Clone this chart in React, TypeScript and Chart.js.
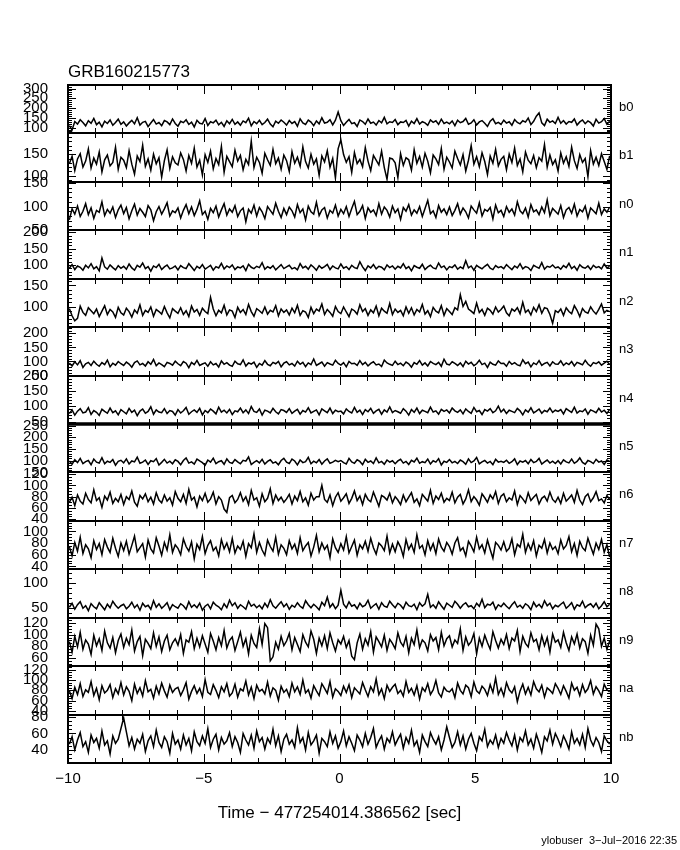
import React, { useEffect, useRef } from "react";
import { Chart, registerables } from "chart.js";

Chart.register(...registerables);

const TITLE = "GRB160215773";
const X_TITLE = "Time \u2212 477254014.386562 [sec]";
const FOOTER = "ylobuser  3\u2212Jul\u22122016 22:35";
const X_MIN = -10;
const X_MAX = 10;
const X_LABEL_TICKS = [-10, -5, 0, 5, 10];
const X_MINOR_STEP = 1;
const X_MAJOR_STEP = 5;

const DETECTORS = ["b0", "b1", "n0", "n1", "n2", "n3", "n4", "n5", "n6", "n7", "n8", "n9", "na", "nb"];
const Y_MINS = [70, 86, 50, 58, 51, 50, 42, 50, 37, 35, 31, 46, 33, 24];
const Y_MAXS = [318, 198, 152, 206, 166, 222, 200, 257, 123, 118, 128, 129, 127, 83];
const Y_LABEL_STEPS = [50, 50, 50, 50, 50, 50, 50, 50, 20, 20, 50, 20, 20, 20];
const Y_MINOR_STEPS = [10, 10, 10, 10, 10, 10, 10, 10, 5, 5, 10, 5, 5, 5];
const THICK_EDGE_PANEL = 6;

const b0Counts = [
  110,88,131,118,140,126,109,135,122,147,115,128,104,133,121,139,112,126,143,117,
  129,108,124,137,119,150,113,127,132,105,123,141,118,126,110,136,129,115,144,121,
  107,132,125,140,116,128,103,137,122,119,146,111,130,124,138,114,127,106,135,120,
  142,117,129,112,134,125,148,109,131,120,137,115,126,143,118,104,133,122,139,127,
  113,136,121,131,107,145,124,116,138,128,110,134,119,150,123,127,140,114,138,180,
  135,111,127,142,120,125,106,139,131,117,144,122,128,113,136,124,152,119,130,126,
  141,115,129,126,137,108,133,121,146,118,130,124,112,139,127,135,116,143,121,128,
  119,134,110,138,125,131,147,117,124,140,113,129,136,122,106,133,145,120,127,116,
  138,123,130,112,141,126,119,135,128,149,115,132,158,175,124,110,143,127,134,121,
  152,122,136,118,131,127,144,113,129,139,120,134,125,108,142,123,130,146,117,132,
];
const b1Counts = [
  128,145,112,139,151,120,134,162,118,141,127,155,109,137,148,123,131,166,115,143,
  136,119,158,127,104,146,133,171,122,139,113,150,128,142,97,135,160,117,144,130,
  125,153,138,111,147,129,164,120,136,102,149,131,157,116,140,126,168,108,145,133,
  121,159,134,147,114,138,126,180,119,143,131,106,152,137,124,161,128,141,115,148,
  135,110,156,129,143,122,167,133,118,150,127,139,101,146,132,158,120,140,95,163,
  183,149,131,144,108,154,128,138,121,165,134,112,147,136,125,157,119,92,141,139,
  130,96,151,124,142,137,113,160,129,145,120,152,134,107,148,139,126,163,115,143,
  132,118,157,140,125,149,111,136,170,127,144,121,153,133,103,146,129,161,123,138,
  145,114,150,131,164,124,139,109,155,136,128,147,119,142,134,172,120,148,126,137,
  111,153,129,144,122,166,135,117,149,131,140,98,158,127,143,124,151,133,115,146,
];
const n0Counts = [
  72,95,84,101,79,90,106,83,97,75,92,88,110,81,94,86,99,77,93,103,
  85,98,74,91,105,82,96,88,79,102,93,70,89,100,84,95,108,80,91,87,
  97,76,92,104,85,99,81,94,112,83,90,73,96,87,101,78,93,106,82,95,
  88,102,79,91,97,68,94,86,103,80,98,89,75,100,92,84,107,90,77,96,
  83,99,91,78,104,87,95,72,101,89,84,109,81,93,98,76,92,86,103,80,
  94,85,100,79,96,111,83,90,102,75,97,88,93,81,106,84,99,92,78,101,
  87,95,73,98,90,104,82,93,86,100,79,96,113,85,91,77,102,88,95,83,
  99,81,92,106,84,97,89,76,101,93,86,108,80,94,90,98,74,103,87,92,
  79,100,88,95,82,110,91,85,97,78,104,89,93,83,99,87,114,81,96,90,
  84,102,77,93,98,86,105,80,94,89,101,76,97,91,85,107,83,95,88,99,
];
const n1Counts = [
  90,101,86,97,93,84,99,91,104,88,95,82,121,94,87,100,92,85,98,90,
  96,87,103,91,84,99,93,106,89,95,81,97,92,102,86,94,100,88,91,97,
  85,98,92,89,104,94,83,96,90,101,87,93,99,84,95,91,105,88,97,92,
  100,86,94,91,97,83,102,93,89,96,92,107,87,95,90,98,85,93,101,89,
  94,99,88,92,85,104,91,96,87,100,93,84,98,90,95,102,86,97,91,88,
  103,90,95,86,99,92,89,110,94,83,97,91,101,88,96,93,85,100,92,97,
  87,96,91,104,89,95,82,98,93,90,102,86,94,99,91,88,106,92,97,85,
  95,92,100,87,94,89,113,91,97,84,99,93,88,96,102,90,86,98,92,95,
  89,101,93,86,97,91,104,88,95,92,83,99,94,90,107,87,96,93,100,91,
  94,87,98,92,105,89,96,84,101,93,90,97,86,99,92,95,88,103,91,96,
];
const n2Counts = [
  95,78,66,72,101,86,79,97,90,83,94,76,89,102,81,93,87,74,98,85,
  80,96,88,75,92,84,104,79,91,86,99,77,93,88,82,100,85,73,95,89,
  84,97,81,90,76,101,87,93,79,96,88,83,122,94,78,91,85,103,80,92,
  89,74,98,86,93,81,105,88,77,95,90,84,99,82,91,87,102,78,94,86,
  92,80,96,85,103,79,90,87,74,98,83,94,89,106,81,93,86,77,100,88,
  83,99,87,76,94,90,82,104,88,95,79,92,85,101,78,96,89,84,107,81,
  94,86,91,78,99,84,97,80,93,87,105,82,90,76,98,89,85,102,79,95,
  88,81,97,92,128,100,112,94,89,83,108,86,93,79,96,91,82,99,87,93,
  101,85,78,94,89,97,83,110,86,92,80,98,88,104,84,97,95,81,60,90,
  86,94,79,97,88,83,102,91,76,95,87,84,99,89,82,93,106,85,91,88,
];
const n3Counts = [
  95,84,99,88,103,79,92,97,86,101,90,83,96,89,105,81,94,87,100,92,
  86,98,91,80,96,102,88,93,84,99,90,107,85,95,89,82,97,93,87,101,
  92,85,100,94,78,97,89,104,86,91,95,83,99,88,93,80,102,90,96,87,
  83,101,92,89,106,84,95,91,98,79,93,87,103,90,85,97,92,100,81,94,
  99,88,93,84,101,90,97,82,95,89,109,86,92,98,83,96,91,87,104,93,
  87,96,81,100,92,94,86,103,89,97,84,93,99,88,91,82,105,95,90,86,
  101,89,94,85,98,92,80,96,90,103,87,95,84,100,93,89,97,83,108,91,
  88,99,93,86,95,82,101,91,97,85,92,104,89,94,79,98,90,87,102,93,
  94,83,100,90,96,88,85,106,92,98,81,95,89,103,86,93,97,84,99,91,
  90,102,86,95,89,100,84,97,93,88,104,91,83,96,92,99,87,94,101,89,
];
const n4Counts = [
  76,88,71,84,92,78,81,95,73,86,80,70,90,83,77,94,79,85,72,89,
  82,75,93,80,87,69,84,91,77,83,98,74,88,81,79,92,76,86,83,71,
  89,78,85,96,74,82,88,80,93,72,86,79,91,84,75,97,81,87,78,90,
  73,85,82,94,79,88,76,99,83,80,91,71,87,84,78,93,82,75,89,86,
  80,92,77,84,90,74,86,81,95,78,83,88,72,91,85,79,94,76,87,82,
  84,75,91,83,78,96,80,87,73,89,82,93,77,85,90,74,88,81,98,79,
  86,82,77,92,84,71,89,80,94,76,87,83,79,97,81,85,74,90,83,88,
  78,94,85,80,88,75,91,83,77,96,82,86,73,89,84,92,79,85,100,81,
  90,76,87,83,79,93,85,72,88,81,95,78,84,91,77,86,82,94,80,87,
  83,89,75,92,86,80,97,78,85,82,91,74,88,84,79,93,81,87,76,90,
];
const n5Counts = [
  99,85,104,92,110,88,96,101,83,107,94,90,113,87,98,93,105,81,97,102,
  91,108,86,99,95,115,89,94,103,84,100,96,109,82,93,106,90,98,87,104,
  97,83,101,112,90,95,86,107,99,92,81,103,94,111,88,96,100,85,108,93,
  89,105,95,87,102,98,116,84,93,100,91,106,86,97,104,90,95,83,101,110,
  94,88,107,99,82,103,92,96,114,87,98,91,105,85,99,108,89,94,102,96,
  101,92,86,110,95,89,104,97,83,106,93,99,88,112,91,97,85,103,94,100,
  87,99,106,90,97,84,102,95,111,89,96,92,107,86,100,94,109,82,98,93,
  105,91,97,88,103,96,85,108,92,99,114,87,95,101,90,97,83,106,94,98,
  93,102,89,96,108,84,99,94,101,87,105,92,97,110,86,95,103,90,98,88,
  100,86,104,95,91,107,89,97,112,93,85,101,96,88,106,94,99,84,103,97,
];
const n6Counts = [
  70,79,64,83,72,67,86,75,69,92,73,78,61,81,74,88,68,77,71,84,
  66,80,75,90,70,63,82,76,85,71,79,67,87,74,69,83,72,78,65,89,
  77,71,84,68,93,74,79,62,81,73,86,70,76,88,67,80,74,58,52,78,
  82,69,75,87,72,80,66,91,74,78,63,85,71,77,94,68,83,73,79,70,
  76,84,67,81,73,89,71,78,65,86,74,80,80,100,75,70,83,64,79,87,
  72,78,85,68,77,90,73,81,66,84,75,71,88,76,63,82,79,74,86,69,
  80,74,66,83,71,79,87,70,76,64,84,78,72,91,68,81,75,86,70,77,
  73,88,69,79,84,67,76,92,71,80,74,65,85,78,70,83,76,89,68,81,
  85,71,78,74,90,66,82,76,69,87,73,79,84,67,77,81,72,88,75,70,
  79,68,86,72,77,83,70,91,74,66,80,85,71,78,89,73,76,69,82,75,
];
const n7Counts = [
  74,58,81,66,90,62,77,70,55,84,69,79,60,86,73,64,88,71,57,80,
  67,83,61,76,92,65,72,79,56,85,70,63,89,75,59,81,68,94,64,77,
  71,60,87,74,66,82,53,78,69,91,62,76,84,67,73,58,86,70,80,65,
  88,63,75,69,83,57,79,72,96,64,81,68,59,85,74,66,90,61,77,71,
  60,84,70,78,62,89,67,75,81,58,73,93,65,80,69,76,55,87,72,64,
  79,68,91,63,74,85,59,77,70,83,66,88,72,61,80,75,67,92,63,78,
  65,82,73,57,86,69,78,64,94,71,76,60,84,68,79,62,87,73,66,81,
  74,61,80,89,67,72,58,83,75,65,90,70,77,63,85,69,54,81,76,68,
  82,66,71,87,60,78,73,95,64,79,68,84,58,76,71,86,63,80,69,74,
  62,85,70,76,91,65,79,59,83,72,67,88,74,61,80,69,86,64,77,56,
];
const n8Counts = [
  52,60,48,57,63,50,55,45,59,53,49,61,54,47,58,51,64,56,50,55,
  58,49,54,62,51,57,46,60,53,56,48,65,52,59,50,55,61,47,57,53,
  50,59,55,48,63,52,57,51,60,46,54,58,49,62,56,53,47,59,51,66,
  55,61,50,57,53,48,64,54,58,51,56,49,60,52,67,55,50,57,63,53,
  59,48,56,52,61,54,50,65,57,51,58,53,47,62,55,72,52,59,49,56,
  86,58,51,63,54,57,49,60,53,56,66,50,55,59,48,61,54,52,64,57,
  51,60,56,49,62,55,53,58,47,61,54,59,78,52,57,50,63,55,48,60,
  56,52,64,58,50,57,61,53,55,49,60,54,68,51,58,56,62,48,57,53,
  60,54,49,57,63,52,56,50,59,55,47,62,53,58,51,65,55,60,49,56,
  53,58,62,50,55,61,48,57,54,64,51,56,59,52,60,49,55,63,53,58,
];
const n9Counts = [
  88,70,97,79,104,75,91,84,66,99,81,93,73,106,86,77,95,69,90,101,
  78,94,83,108,72,88,97,64,92,85,76,103,80,96,71,89,99,74,86,93,
  82,100,68,91,87,105,76,94,79,98,84,70,102,89,74,95,81,107,77,90,
  96,73,88,104,80,93,67,99,85,78,110,83,119,112,55,62,87,75,97,81,
  89,102,74,95,83,71,100,87,79,106,92,68,94,81,98,76,103,86,72,91,
  84,97,78,90,63,57,86,101,75,93,82,105,70,96,88,79,99,73,92,85,
  76,103,87,80,97,69,94,83,108,78,91,86,72,100,89,95,74,104,81,93,
  98,79,91,85,110,73,96,82,88,102,67,94,80,99,86,75,105,90,77,92,
  83,100,76,94,89,107,71,97,85,79,103,88,92,74,98,81,95,70,101,87,
  91,78,104,86,73,96,84,101,77,93,88,68,99,82,118,110,80,94,75,89,
];
const naCounts = [
  79,64,86,72,93,68,81,76,97,70,84,62,89,75,80,91,66,83,73,95,
  71,87,78,60,92,74,85,69,99,77,82,65,88,73,94,79,67,90,76,83,
  86,70,81,95,63,78,89,74,84,68,101,76,72,91,80,66,87,77,93,69,
  75,92,67,83,79,98,71,86,64,90,78,82,73,96,69,85,80,61,88,76,
  82,68,94,77,87,72,100,75,81,65,89,79,70,93,84,74,97,67,83,78,
  70,88,76,91,66,85,79,73,95,81,68,87,77,102,72,83,64,90,78,86,
  92,74,80,69,97,76,84,71,89,63,85,78,93,72,81,99,75,67,86,79,
  77,83,66,94,80,73,90,85,68,96,79,74,88,82,70,91,76,104,72,84,
  69,95,81,75,87,58,79,92,73,86,71,97,83,77,90,67,85,80,74,93,
  84,72,89,78,65,94,80,86,70,91,76,83,99,73,87,79,68,92,81,77,
];
const nbCounts = [
  47,56,40,52,61,44,50,37,58,49,54,42,63,46,51,35,57,48,53,66,
  79,62,45,55,41,53,48,59,38,51,57,44,64,49,43,56,50,36,60,47,
  52,41,58,46,54,39,62,50,45,57,48,66,43,53,59,40,55,47,51,61,
  44,56,49,37,60,52,46,58,42,63,50,55,41,54,48,65,45,57,38,53,
  59,47,52,43,67,49,55,40,61,46,51,58,36,54,50,44,62,48,57,42,
  50,63,45,56,48,39,58,52,44,60,47,55,66,43,51,57,41,54,49,62,
  46,53,59,42,55,48,64,45,51,37,58,50,44,61,53,47,56,40,52,68,
  55,43,49,62,46,57,41,53,60,48,39,56,51,65,44,52,47,58,43,54,
  48,61,52,45,58,40,55,50,63,46,53,42,59,49,37,56,51,64,47,60,
  53,44,57,50,41,62,48,54,46,59,43,66,52,45,55,49,38,57,51,47,
];

const SERIES = [
  b0Counts, b1Counts, n0Counts, n1Counts, n2Counts, n3Counts, n4Counts,
  n5Counts, n6Counts, n7Counts, n8Counts, n9Counts, naCounts, nbCounts,
];

const FONT = "'Liberation Sans', Arial, sans-serif";

function fmt(v: number): string {
  return v < 0 ? "\u2212" + Math.abs(v) : String(v);
}

const framePlugin = {
  id: "panelFrames",
  afterDraw(chart: any) {
    const { ctx, chartArea } = chart;
    const xs = chart.scales.x;
    const left = Math.round(chartArea.left);
    const right = Math.round(chartArea.right);
    ctx.save();
    ctx.strokeStyle = "#000";
    ctx.fillStyle = "#000";
    DETECTORS.forEach((name, i) => {
      const ys = chart.scales["y" + i];
      const top = Math.round(ys.top);
      const bot = Math.round(ys.bottom);
      const minor = Y_MINOR_STEPS[i];
      const major = Y_LABEL_STEPS[i];
      ctx.lineWidth = 1;
      ctx.beginPath();
      for (let v = Math.ceil(ys.min / minor) * minor; v <= ys.max; v += minor) {
        const py = Math.round(ys.getPixelForValue(v)) + 0.5;
        const len = v % major === 0 ? 8 : 4;
        ctx.moveTo(left, py);
        ctx.lineTo(left + len, py);
        ctx.moveTo(right, py);
        ctx.lineTo(right - len, py);
      }
      for (let k = 0; k <= (X_MAX - X_MIN) / X_MINOR_STEP; k++) {
        const t = X_MIN + k * X_MINOR_STEP;
        const px = Math.round(xs.getPixelForValue(t)) + 0.5;
        const len = t % X_MAJOR_STEP === 0 ? 9 : 5;
        ctx.moveTo(px, top);
        ctx.lineTo(px, top + len);
        ctx.moveTo(px, bot);
        ctx.lineTo(px, bot - len);
      }
      ctx.stroke();

      ctx.lineWidth = 2;
      ctx.beginPath();
      ctx.moveTo(left - 1, top);
      ctx.lineTo(right + 1, top);
      ctx.moveTo(left, top);
      ctx.lineTo(left, bot);
      ctx.moveTo(right, top);
      ctx.lineTo(right, bot);
      ctx.stroke();
      ctx.lineWidth = i === THICK_EDGE_PANEL ? 3.5 : 2;
      ctx.beginPath();
      ctx.moveTo(left - 1, bot);
      ctx.lineTo(right + 1, bot);
      ctx.stroke();

      ctx.font = "13px " + FONT;
      ctx.textAlign = "left";
      ctx.textBaseline = "middle";
      ctx.fillText(name, right + 8, (top + bot) / 2 - 2);
    });

    ctx.font = "17px " + FONT;
    ctx.textAlign = "left";
    ctx.textBaseline = "alphabetic";
    ctx.fillText(TITLE, left, chartArea.top - 8);

    ctx.textAlign = "center";
    ctx.fillText(X_TITLE, (left + right) / 2, chartArea.bottom + 55);

    ctx.font = "11px " + FONT;
    ctx.textAlign = "right";
    ctx.fillText(FOOTER, chart.width - 3, chart.height - 6);
    ctx.restore();
  },
};

export default function App() {
  const canvasRef = useRef<HTMLCanvasElement>(null);

  useEffect(() => {
    const canvas = canvasRef.current;
    if (!canvas) return;

    const scales: any = {
      x: {
        type: "linear",
        position: "bottom",
        min: X_MIN,
        max: X_MAX,
        bounds: "data",
        grid: { display: false, drawTicks: false },
        border: { display: false },
        afterBuildTicks: (s: any) => {
          s.ticks = X_LABEL_TICKS.map((v) => ({ value: v }));
        },
        afterFit: (s: any) => {
          s.height = 87;
        },
        ticks: {
          autoSkip: false,
          maxRotation: 0,
          padding: 7,
          color: "#000",
          font: { family: FONT, size: 15 },
          callback: (v: any) => fmt(Number(v)),
        },
      },
    };

    DETECTORS.forEach((_, i) => {
      const lo = Y_MINS[i];
      const hi = Y_MAXS[i];
      const step = Y_LABEL_STEPS[i];
      scales["y" + i] = {
        type: "linear",
        position: "left",
        stack: "panels",
        stackWeight: 1,
        weight: 100 - i,
        offset: false,
        min: lo,
        max: hi,
        bounds: "data",
        grid: { display: false, drawTicks: false },
        border: { display: false },
        afterBuildTicks: (s: any) => {
          const t: any[] = [];
          for (let v = Math.ceil(lo / step) * step; v <= hi; v += step) t.push({ value: v });
          s.ticks = t;
        },
        afterFit: (s: any) => {
          s.width = 68;
        },
        ticks: {
          autoSkip: false,
          padding: 20,
          color: "#000",
          font: { family: FONT, size: 15 },
          callback: (v: any) => fmt(Number(v)),
        },
      };
    });

    const datasets = SERIES.map((vals, i) => {
      const w = (X_MAX - X_MIN) / vals.length;
      const pts = vals.map((v, j) => ({ x: X_MIN + (j + 0.5) * w, y: v }));
      return {
        label: DETECTORS[i],
        data: pts,
        yAxisID: "y" + i,
        xAxisID: "x",
        borderColor: "#000",
        borderWidth: 1.5,
        pointRadius: 0,
        tension: 0,
        fill: false,
      };
    });

    const chart = new Chart(canvas, {
      type: "line",
      data: { datasets },
      options: {
        animation: false,
        responsive: false,
        devicePixelRatio: 1,
        layout: { padding: { left: 0, right: 69, top: 85, bottom: 0 } },
        plugins: {
          legend: { display: false },
          tooltip: { enabled: false },
          title: { display: false },
        },
        scales,
      },
      plugins: [framePlugin],
    });

    return () => chart.destroy();
  }, []);

  return (
    <div style={{ position: "absolute", left: 0, top: 0, width: 680, height: 850, background: "#fff" }}>
      <canvas ref={canvasRef} width={680} height={850} />
    </div>
  );
}
